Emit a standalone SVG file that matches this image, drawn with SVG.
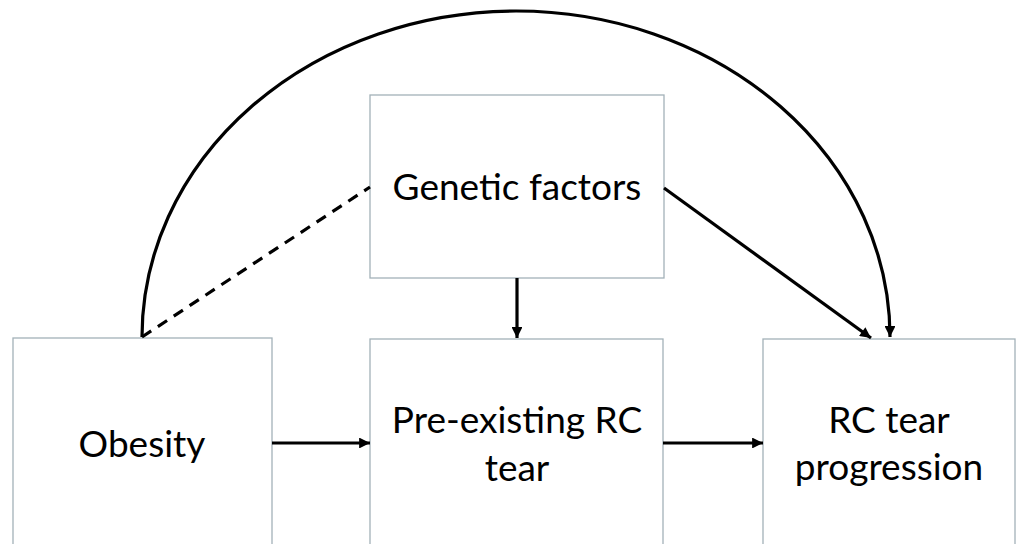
<svg xmlns="http://www.w3.org/2000/svg" width="1018" height="544" viewBox="0 0 1018 544">
<style>
.box{fill:#ffffff;stroke:#a3b1b8;stroke-width:1.3}
.lbl{font-family:Lato,"Open Sans",sans-serif;font-size:37px;fill:#000;text-anchor:middle}
.con{fill:none;stroke:#000;stroke-width:3.2}
</style>
<defs>
<marker id="ah" viewBox="0 0 10 10" refX="10" refY="5" markerWidth="3.6" markerHeight="3.4" orient="auto" markerUnits="strokeWidth">
<path d="M0,0 L10,5 L0,10 Z" fill="#000"/>
</marker>
</defs>
<rect width="1018" height="544" fill="#ffffff"/>
<g id="obesity">
<rect class="box" x="13" y="338" width="259" height="230"/>
<text class="lbl" x="142" y="457">Obesity</text>
</g>
<g id="genetic">
<rect class="box" x="370" y="95" width="294" height="183"/>
<text class="lbl" x="517" y="200">Genetic factors</text>
</g>
<g id="preexisting">
<rect class="box" x="370" y="339" width="293" height="230"/>
<text class="lbl" x="517" y="433">Pre-existing RC</text>
<text class="lbl" x="517" y="481">tear</text>
</g>
<g id="progression">
<rect class="box" x="763" y="339" width="252" height="230"/>
<text class="lbl" x="889" y="433">RC tear</text>
<text class="lbl" x="889" y="480">progression</text>
</g>
<g id="connectors">
<path class="con" d="M142,337 A374,326 0 0 1 890,337" marker-end="url(#ah)"/>
<path class="con" d="M142,337 L370,187" stroke-dasharray="11,8"/>
<path class="con" d="M272,443 L370,443" marker-end="url(#ah)"/>
<path class="con" d="M663,443 L763,443" marker-end="url(#ah)"/>
<path class="con" d="M517,278 L517,338" marker-end="url(#ah)"/>
<path class="con" d="M664,188 L871,338" marker-end="url(#ah)"/>
</g>
</svg>
